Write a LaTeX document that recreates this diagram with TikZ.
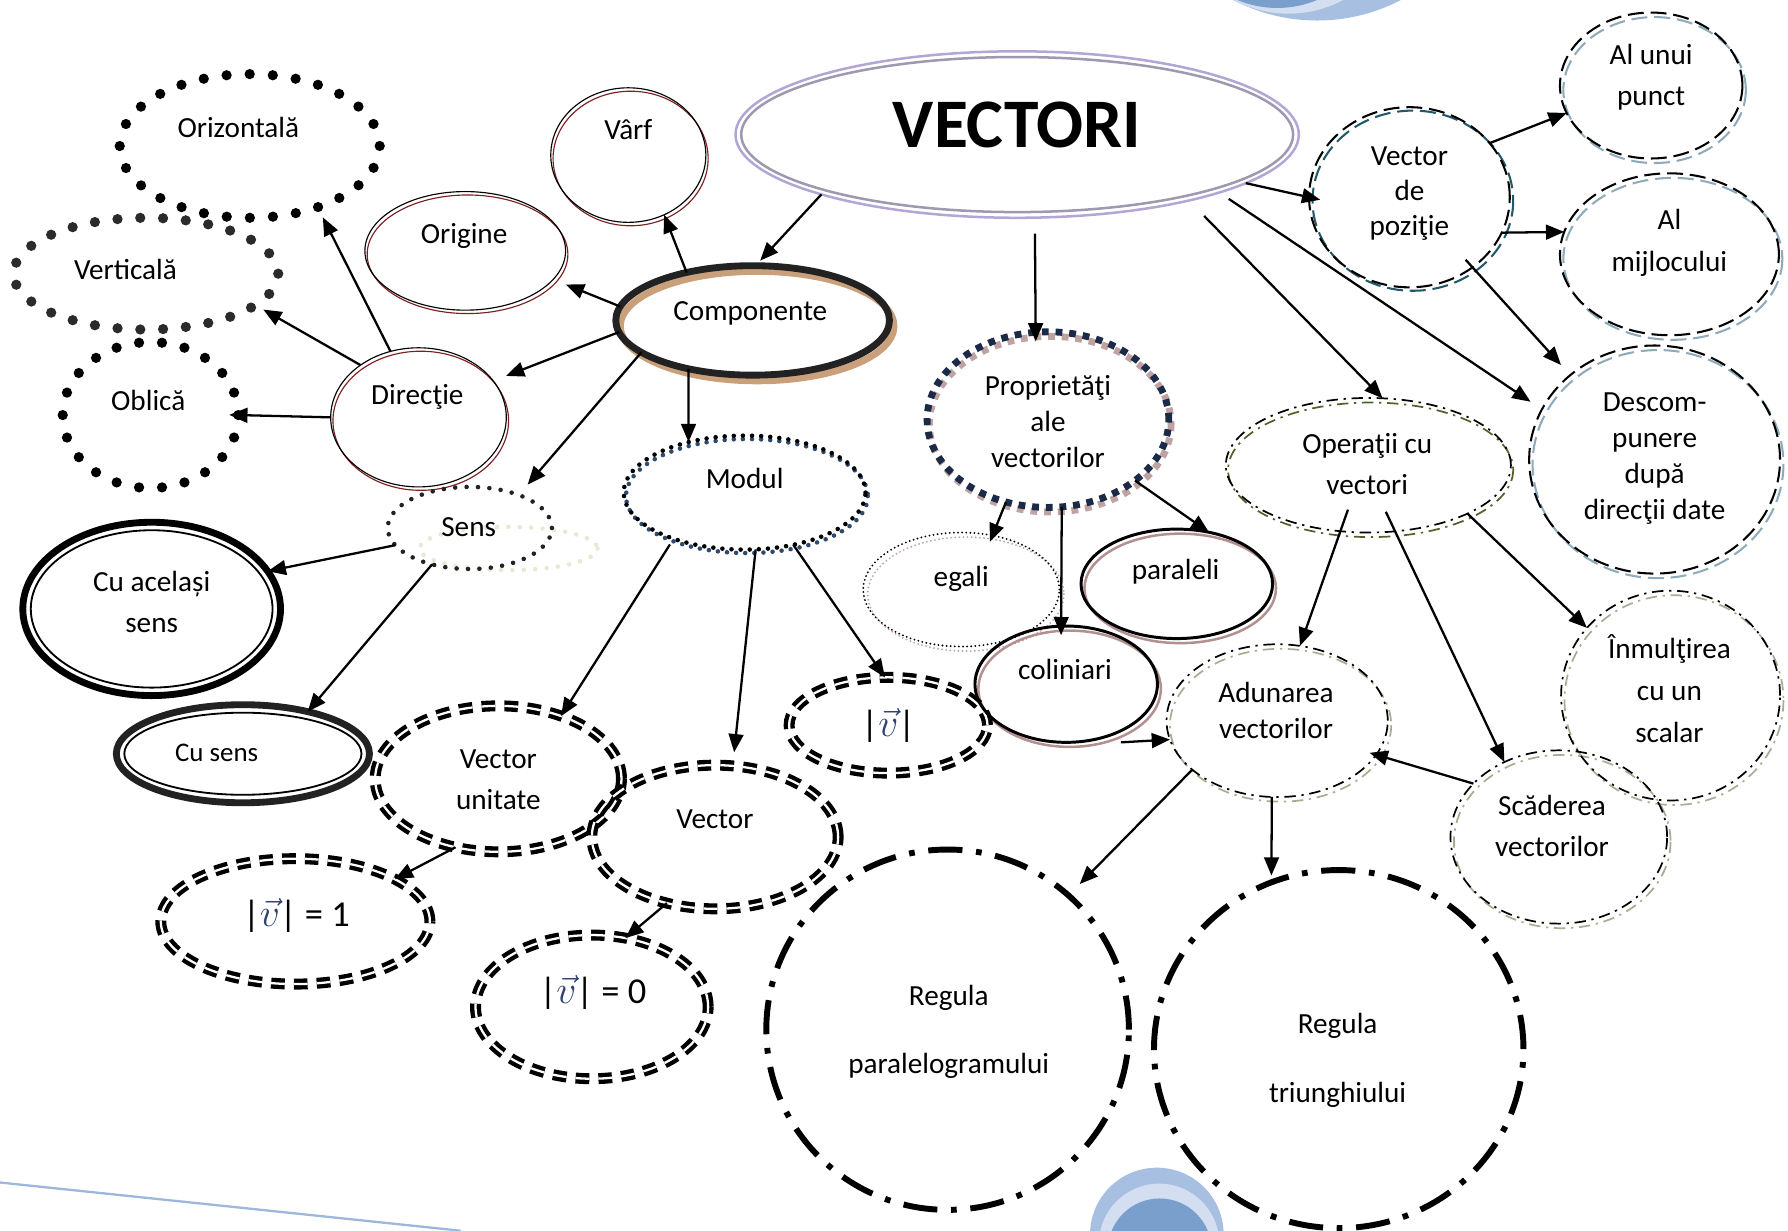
\documentclass[tikz,border=0pt]{standalone}
\usepackage{fontspec}
\setmainfont{Carlito}
\usetikzlibrary{shapes.geometric,arrows.meta,calc}
\pgfdeclarelayer{bg}
\pgfsetlayers{bg,main}
\definecolor{decoL}{HTML}{A7BFE0}
\definecolor{decoM}{HTML}{D3DEF0}
\definecolor{decoD}{HTML}{7B9FCD}
\definecolor{decoLine}{HTML}{9CB6DC}
\definecolor{vlav}{HTML}{B3A6D4}
\definecolor{vgray}{HTML}{9E99AE}
\definecolor{compk}{HTML}{222222}
\definecolor{tanc}{HTML}{C9A07A}
\definecolor{dred}{HTML}{7A2020}
\definecolor{mblue}{HTML}{2E4A6E}
\definecolor{navy}{HTML}{1B2A47}
\definecolor{pinkg}{HTML}{BFA2A2}
\definecolor{pinkd}{HTML}{B39090}
\definecolor{tealc}{HTML}{215968}
\definecolor{steelc}{HTML}{8FAAB9}
\definecolor{olivec}{HTML}{4F6228}
\definecolor{sagec}{HTML}{A4AE93}
\definecolor{palegr}{HTML}{E3EBD3}
\definecolor{vcol}{HTML}{2F3F70}
\definecolor{darkdot}{HTML}{2B2B2B}
\tikzset{
 arr/.style={line width=1pt,-{Triangle[length=8pt,width=6.5pt]}},
 el/.style={ellipse,inner sep=0pt,outer sep=0pt},
 esz/.style 2 args={minimum width=#1pt,minimum height=#2pt},
 lbl/.style={inner sep=0pt,align=center,font=\fontsize{12.8}{#1}\selectfont},
 lbl/.default=16,
 bigdots/.style={line width=4.5pt,dash pattern=on 0pt off #1pt,line cap=round},
 bigdots/.default=10,
 smalldots/.style={line width=2pt,dash pattern=on 0pt off 5pt,line cap=round},
 tinydots/.style={line width=2pt,dash pattern=on 0pt off 4pt,line cap=round},
 finedots/.style={line width=0.9pt,dash pattern=on 0pt off 1.8pt,line cap=round},
 ddash/.style={draw=black,double=white,line width=1.9pt,double distance=1pt,dash pattern=on 6pt off 4pt},
 posdash/.style={line width=0.9pt,dash pattern=on 7pt off 3pt},
 dashdot/.style={line width=0.75pt,dash pattern=on 5pt off 2.5pt on 1pt off 2.5pt},
 bigdashdot/.style={line width=2.6pt,dash pattern=on 15pt off 6pt on 2.5pt off 6pt},
 propdash/.style={line width=3pt,dash pattern=on 3pt off 3pt},
 thin2/.style={line width=0.5pt},
 formula/.style={inner sep=0pt,font=\fontsize{16}{19}\selectfont}
}
\newcommand{\vecv}{{\color{vcol}\fontsize{19}{20}\selectfont$\vec{v}$}}
\begin{document}
\begin{tikzpicture}[x=0.5pt,y=-0.5pt]
\useasboundingbox (0,0) rectangle (1568,1079);
\begin{pgfonlayer}{bg}
\begin{scope}
\clip (0,0) rectangle (1568,1079);
\fill[decoL] (1155,-141) circle (159);
\fill[decoM] (1130,-90) circle (102);
\fill[decoD] (1120,-84) circle (91);
\fill[decoL] (1014.5,1082.6) circle (58.6);
\fill[decoM] (1016.5,1090.8) circle (52.8);
\fill[decoD] (1017,1096.5) circle (45.5);
\draw[decoLine,line width=1pt] (0,1037) -- (404,1079.3);
\end{scope}
\end{pgfonlayer}

% ---------- nodes ----------
\node[el,esz={247}{73},draw=vlav,line width=1.1pt] (vectori) at (892,118) {};
\node[el,esz={120}{48},draw=compk,line width=3pt] (comp) at (660,281) {};
\node[el,esz={68}{59},draw,thin2] (varf) at (551,136) {};
\node[el,esz={88}{52},draw,thin2] (orig) at (408,220) {};
\node[el,esz={114}{63},draw,bigdots=10.14] (oriz) at (219,128) {};
\node[el,esz={116}{49},draw=darkdot,bigdots=10] (vert) at (128,240) {};
\node[el,esz={77}{64},draw,bigdots=10.09] (obl) at (132,364) {};
\node[el,esz={77}{61},draw,thin2] (dir) at (367,366) {};
\node[el,esz={72}{36},draw=compk,smalldots] (sens) at (412,463) {};
\node[el,esz={113}{76},draw,line width=3pt] (cuas) at (133,534) {};
\node[el,esz={111}{43},draw=compk,line width=3pt] (cus) at (213,661) {};
\node[el,esz={106}{50},draw,tinydots] (modul) at (653,432) {};
\node[el,esz={108}{64},ddash] (vunit) at (437,683) {};
\node[el,esz={108}{63},ddash] (vect) at (627,734) {};
\node[el,esz={87}{42},ddash] (absv) at (779,636) {};
\node[el,esz={118}{55},ddash] (v1) at (259,808) {};
\node[el,esz={102}{63},ddash] (v0) at (519,883) {};
\node[el,esz={106}{77},draw=navy,propdash] (prop) at (919,368) {};
\node[el,esz={86}{50},draw,finedots] (egali) at (843,517) {};
\node[el,esz={84}{48},draw,line width=1.3pt] (paral) at (1032,512) {};
\node[el,esz={80}{51},draw,line width=1.3pt] (colin) at (935,600) {};
\node[el,esz={88}{79},draw,posdash] (vpoz) at (1236,173) {};
\node[el,esz={80}{64},draw,posdash] (unui) at (1448,75) {};
\node[el,esz={96}{71},draw,posdash] (mijl) at (1464,223) {};
\node[el,esz={110}{100},draw,posdash] (desc) at (1451,403) {};
\node[el,esz={125}{59},draw,dashdot] (oper) at (1200,408) {};
\node[el,esz={97}{67},draw,dashdot] (adun) at (1120,632) {};
\node[el,esz={96}{92},draw,dashdot] (inm) at (1465,610) {};
\node[el,esz={95}{76},draw,dashdot] (scad) at (1367,734) {};
\node[el,esz={159}{158},draw,bigdashdot] (rpar) at (831,903) {};
\node[el,esz={162}{157},draw,bigdashdot] (rtri) at (1174,920) {};

% ---------- second outlines ----------
\draw[vgray,line width=1.1pt] (vectori.center) ellipse (242 and 68);
\draw[line width=0.8pt] (cuas.center) ellipse (106 and 69);
\draw[line width=0.8pt] (cus.center) ellipse (104 and 36);
\begin{pgfonlayer}{bg}
\draw[tanc,line width=3pt] ([shift={(4,5)}]comp.center) ellipse (120 and 48);
\draw[dred,thin2] ([shift={(2,3)}]varf.center) ellipse (68 and 59);
\draw[dred,thin2] ([shift={(2,3)}]orig.center) ellipse (88 and 52);
\draw[dred,thin2] ([shift={(2,3)}]dir.center) ellipse (77 and 61);
\draw[palegr,smalldots] ([shift={(34,18)}]sens.center) ellipse (78 and 19);
\draw[mblue,tinydots] ([shift={(2,3)}]modul.center) ellipse (106 and 50);
\draw[pinkg,propdash] ([shift={(2,4)}]prop.center) ellipse (106 and 77);
\draw[pinkg,finedots] ([shift={(4,4)}]egali.center) ellipse (86 and 50);
\draw[pinkd,line width=1.1pt] ([shift={(3,4)}]paral.center) ellipse (84 and 48);
\draw[pinkd,line width=1.1pt] ([shift={(3,4)}]colin.center) ellipse (80 and 51);
\draw[tealc,posdash] ([shift={(3,3)}]vpoz.center) ellipse (88 and 79);
\draw[steelc,posdash] ([shift={(3,4)}]unui.center) ellipse (80 and 64);
\draw[steelc,posdash] ([shift={(3,4)}]mijl.center) ellipse (96 and 71);
\draw[steelc,posdash] ([shift={(3,4)}]desc.center) ellipse (110 and 100);
\draw[olivec,dashdot] ([shift={(2,4)}]oper.center) ellipse (125 and 59);
\draw[sagec,dashdot] ([shift={(3,4)}]adun.center) ellipse (97 and 67);
\draw[sagec,dashdot] ([shift={(3,4)}]inm.center) ellipse (96 and 92);
\draw[sagec,dashdot] ([shift={(3,4)}]scad.center) ellipse (95 and 76);
\end{pgfonlayer}

% ---------- texts ----------
\node[inner sep=0pt,font=\fontsize{30.5}{36}\selectfont\bfseries] (tvectori) at (892,110) {VECTORI};
\node[lbl] (tcomp) at (658,275) {Componente};
\node[lbl] (tvarf) at (551,114) {Vârf};
\node[lbl] (torig) at (407,207) {Origine};
\node[lbl] (toriz) at (209,112) {Orizontală};
\node[lbl] (tvert) at (110,236) {Verticală};
\node[lbl] (tobl) at (130,351) {Oblică};
\node[lbl] (tdir) at (366,348) {Direcţie};
\node[lbl] (tsens) at (411,462) {Sens};
\node[lbl=18] (tcuas) at (133,528) {Cu același\\sens};
\node[inner sep=0pt,font=\fontsize{11.8}{14}\selectfont] (tcus) at (190,660) {Cu sens};
\node[lbl] (tmodul) at (653,420) {Modul};
\node[lbl=18] (tvunit) at (437,684) {Vector\\unitate};
\node[lbl] (tvect) at (627,718) {Vector};
\node[formula] (tabsv) at (779,636) {|\vecv|};
\node[formula] (tv1) at (260,803) {|\vecv| = 1};
\node[formula] (tv0) at (520,870) {|\vecv| = 0};
\node[lbl=15.75] (tprop) at (919,370) {Proprietăţi\\ale\\vectorilor};
\node[lbl] (tegali) at (843,508) {egali};
\node[lbl] (tparal) at (1031,501) {paraleli};
\node[lbl] (tcolin) at (934,587) {coliniari};
\node[lbl=15.25] (tvpoz) at (1236,170) {Vector\\de\\poziţie};
\node[lbl=18] (tunui) at (1448,68) {Al unui\\punct};
\node[lbl=18] (tmijl) at (1464,213) {Al\\mijlocului};
\node[lbl=15.7] (tdesc) at (1451,402) {Descom-\\punere\\după\\direcţii date};
\node[lbl=18] (toper) at (1199,407) {Operaţii cu\\vectori};
\node[lbl=16] (tadun) at (1119,623) {Adunarea\\vectorilor};
\node[lbl=18.25] (tinm) at (1464,604) {Înmulţirea\\cu un\\scalar};
\node[lbl=18] (tscad) at (1361,724) {Scăderea\\vectorilor};
\node[lbl=30] (trpar) at (832,905) {Regula\\paralelogramului};
\node[lbl=30] (trtri) at (1173,930) {Regula\\triunghiului};

% ---------- connectors ----------
\draw[arr,shorten >=3pt] (vectori.-163) -- (comp.87);
\draw[arr,shorten <=7pt,shorten >=-4pt] (vectori.-78) -- (prop.98);
\draw[arr,shorten >=-5pt] (vectori.-12) -- (vpoz.180);
\draw[arr,shorten <=9.5pt] (vectori.-21.7) -- (oper.78.3);
\draw[arr,shorten <=5pt,shorten >=6pt] (vectori.-16.7) -- (desc.156.6);
\draw[arr] (comp.144.8) -- (varf.-59.3);
\draw[arr,shorten >=6pt] (comp.174.8) -- (orig.-18.6);
\draw[arr,shorten >=6pt] (comp.185.2) -- (dir.26.6);
\draw[arr,shorten >=6pt] (comp.-164.4) -- (sens.34.9);
\draw[arr] (comp.-143.5) -- (modul.138);
\draw[arr,shorten >=5pt] (dir.113.2) -- (oriz.-42.4);
\draw[arr,shorten >=4pt] (dir.138) -- (vert.-16);
\draw[arr,shorten >=-4pt] (dir.180) -- (obl.0);
\draw[arr] (sens.-167.7) -- (cuas.18.8);
\draw[arr] (sens.-136.5) -- (cus.33.5);
\draw[arr,shorten <=3pt] (modul.-147.8) -- (vunit.45.5);
\draw[arr,shorten >=6pt] (modul.-79.8) -- (vect.76.7);
\draw[arr] (modul.-47.5) -- (absv.94);
\draw[arr] (vunit.-122.2) -- (v1.23.1);
\draw[arr] (vect.-126.6) -- (v0.64.6);
\draw[arr,shorten >=-3pt] (prop.-117.2) -- (egali.60.7);
\draw[arr,shorten >=-4pt] (prop.-81.9) -- (colin.95.6);
\draw[arr] (prop.-35.1) -- (paral.58.1);
\draw[arr] ([xshift=24pt]colin.south) -- (adun.-170);
\draw[arr,shorten <=-10pt] (oper.-113.3) -- (adun.73.4);
\draw[arr,shorten <=-9.5pt] (oper.-68.3) -- (scad.126);
\draw[arr] (oper.-26.3) -- (inm.141.1);
\draw[arr,shorten >=-3pt] (scad.148.6) -- (adun.-19.3);
\draw[arr,shorten >=7pt] (adun.-150.6) -- (rpar.48.3);
\draw[arr,shorten >=3pt] (adun.-94.3) -- (rtri.112);
\draw[arr] (vpoz.34.9) -- (unui.-162.8);
\draw[arr] (vpoz.-21.4) -- (mijl.168.8);
\draw[arr,shorten <=-4.5pt,shorten >=6pt] (vpoz.-48.3) -- (desc.135);
\end{tikzpicture}
\end{document}
